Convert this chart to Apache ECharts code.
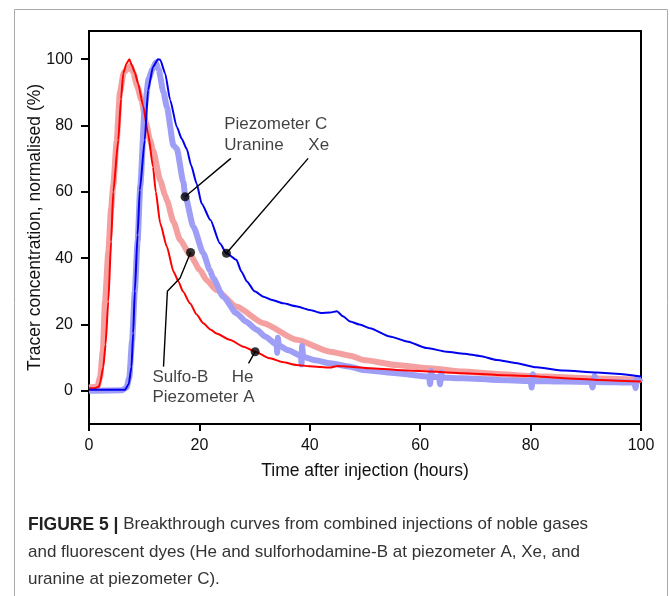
<!DOCTYPE html>
<html><head><meta charset="utf-8">
<script src="https://cdn.jsdelivr.net/npm/echarts@6/dist/echarts.min.js"></script>
<style>html,body{margin:0;padding:0;background:#fff}#c{width:670px;height:596px}</style>
</head><body><div id="c"></div>
<script>
// Data: [time (h), normalised concentration (%)]
const heA = [[0,0.8],[1,0.8],[1.8,1.2],[2,2.4],[2.6,7.3],[3.0,14],[3.5,27],[4.0,45],[4.4,60],[5.3,75.6],[5.8,88],[6.2,95.7],[6.8,98.7],[7.3,100],[7.8,98],[8.3,96],[8.9,92.6],[9.8,86],[10.7,77.6],[11.6,67.5],[12.1,60],[12.9,50.5],[14.1,43.5],[15.3,36],[16.2,33],[17,30],[18.3,26.4],[19.5,23],[20.7,20.4],[22,18.5],[23.1,17.3],[25.5,15.4],[28,13.3],[30.1,11.8],[32.8,9.8],[35,8.7],[37.6,7.8],[40,7.4],[43.7,7],[45,7.5],[47.3,7.3],[50.9,6.8],[55.7,6.3],[61.8,5.8],[67.8,5.3],[73.9,4.8],[79.9,4.5],[86,3.8],[92,3.3],[100,2.8]];
const sulfoB = [[0,1],[1.5,1.2],[2,4],[2.5,12],[2.9,27],[3.5,42],[4.0,55],[4.4,62],[5,75],[5.6,90],[6.3,96],[7.0,97],[7.5,98],[8,96],[8.7,92],[9.5,87.7],[10.3,81],[11.05,75.6],[11.6,72.6],[12.9,63.5],[13.8,59],[14.1,57.5],[15.3,51],[16.5,45.5],[18.3,41],[20.1,36.4],[21.3,33.4],[23.1,30.4],[26.7,25.4],[31.6,20.4],[37.6,15.4],[43.7,11.8],[47.3,10.6],[49.7,9.3],[55.7,7.8],[61.8,6.8],[67.8,5.8],[73.9,5.1],[79.9,4.5],[86,4.1],[92,3.7],[100,3.3]];
const xeC = [[0,0.3],[4,0.3],[6.5,0.3],[7.2,2],[7.7,7.3],[8.0,17.4],[8.3,30],[8.8,47],[9.2,60.5],[10.1,75.6],[10.7,90.7],[11.6,97.7],[12.5,100],[12.9,99.8],[13.8,95.7],[14.7,87.7],[15.9,79.6],[16.8,76],[17.7,73],[18.5,68],[19.5,62.5],[20.4,56.5],[22,51.5],[23.7,44.5],[24.9,41.5],[26.7,39.5],[27.6,36],[28.6,33],[30,30],[31.6,28.4],[33,27.5],[35.2,26.4],[37.5,25.5],[40,24.4],[42,23.5],[43.7,23.6],[44.9,24],[46,22.5],[47.3,20.9],[49,20],[50.9,18.9],[54.5,16.4],[57.6,14.9],[61.2,12.9],[64.8,11.8],[68,11.2],[70.8,10.5],[73.9,9.3],[76.9,8.5],[81.1,7.1],[86,6.1],[92,5.5],[96.2,5.1],[100,4.3]];
const uranineC = [[0,0],[6,0.2],[6.8,1],[7.3,4],[7.8,15],[8.3,30],[8.8,45],[9.3,62],[10.1,85.6],[10.8,94],[11.5,97],[12.1,99],[12.6,97],[13.5,90],[14.1,85.6],[15.3,74],[15.9,73],[17.1,63],[17.4,59],[18.9,49.5],[20.7,41.5],[21.9,36.4],[22.5,34],[24.3,28.4],[26.7,23.4],[28.5,20.8],[30.4,18.4],[32,16.3],[34,13.9],[34.1,11.5],[34.2,16],[34.4,13.7],[36,12.3],[38.4,10.6],[38.5,8],[38.6,13.5],[38.8,10.3],[41,9.2],[43.7,8.3],[47.3,7.3],[49.7,6.3],[55.7,5.3],[61.6,4.3],[61.8,2.0],[62,6],[62.2,4.2],[63.4,4.1],[63.6,2],[63.8,5.5],[64,4.0],[67.8,3.8],[73.9,3.3],[80,3.0],[80.2,1],[80.4,5],[80.6,3],[86,2.8],[91,2.7],[91.2,1],[91.6,4.5],[92,2.7],[98.8,2.5],[99,0.8],[99.3,3.8],[100,2.5]];

// annotation markers and leader lines
const markerPts = [[17.4,58.5],[24.9,41.5],[18.4,41.7],[30.1,11.8]];
const leaderUranine = [[25.7,70.1],[17.4,58.5]];
const leaderXe = [[39.7,70.1],[24.9,41.5]];
const leaderSulfo = [[18.4,41.7],[16.5,34],[14.2,30],[13.5,7.3]];
const leaderHe = [[30.1,11.8],[28.9,8.3]];
// annotation labels: [x, y, text]
const labelsLeft = [[24.5,80.3,'Piezometer C'],[24.5,74.1,'Uranine'],[11.5,4.1,'Sulfo-B'],[11.5,-2.0,'Piezometer A']];
const labelsRight = [[43.5,74.1,'Xe'],[29.8,4.1,'He']];

const xTicks = [0,20,40,60,80,100];
const yTicks = [0,20,40,60,80,100];

const FONT = 'Liberation Sans, Arial, Helvetica, sans-serif';
const chart = echarts.init(document.getElementById('c'), null, {renderer:'canvas'});

function leader(d){ return {type:'line', data:d, symbol:'none', lineStyle:{color:'#000', width:1.4}, z:5, silent:true}; }
function labels(arr, align){
  return {type:'scatter', symbolSize:0, z:6, silent:true,
    data: arr.map(a=>({value:[a[0],a[1]], label:{formatter:a[2]}})),
    label:{show:true, position:'inside', align:align, verticalAlign:'middle', fontFamily:FONT, fontSize:17, color:'#111'}};
}
function curve(name, data, color, width, z){
  return {name:name, type:'line', data:data, symbol:'none', smooth:0.2, smoothMonotone:'x',
    lineStyle:{color:color, width:width}, z:z};
}

chart.setOption({
  animation:false,
  grid:{left:89, right:29, top:31, bottom:172, show:true, borderColor:'#000', borderWidth:2, backgroundColor:'transparent'},
  xAxis:{type:'value', min:0, max:100, interval:20,
    name:'Time after injection (hours)', nameLocation:'middle', nameGap:38, nameMoveOverlap:false,
    nameTextStyle:{fontFamily:FONT, fontSize:17.5, color:'#111'},
    axisLine:{onZero:false, lineStyle:{color:'#000', width:2}},
    axisTick:{show:true, length:7, lineStyle:{color:'#000', width:2}, customValues:xTicks},
    axisLabel:{fontFamily:FONT, fontSize:16, color:'#111', margin:14, customValues:xTicks},
    splitLine:{show:false}},
  yAxis:{type:'value', min:-10, max:108.5,
    name:'Tracer concentration, normalised (%)', nameLocation:'middle', nameGap:45, nameMoveOverlap:false,
    nameTextStyle:{fontFamily:FONT, fontSize:17.5, color:'#111'},
    axisLine:{onZero:false, lineStyle:{color:'#000', width:2}},
    axisTick:{show:true, length:8, lineStyle:{color:'#000', width:2}, customValues:yTicks},
    axisLabel:{fontFamily:FONT, fontSize:16, color:'#111', margin:16, customValues:yTicks},
    splitLine:{show:false}},
  graphic:[
    {type:'rect', shape:{x:14.5, y:9.5, width:653, height:620}, style:{fill:'none', stroke:'#aaa', lineWidth:1}, z:-1},
    {type:'text', left:28, top:511, style:{
      text:'{b|FIGURE 5 |} Breakthrough curves from combined injections of noble gases\nand fluorescent dyes (He and sulforhodamine-B at piezometer A, Xe, and\nuranine at piezometer C).',
      fontFamily:FONT, fontSize:17, lineHeight:27.5, fill:'#333',
      rich:{b:{fontFamily:FONT, fontSize:17.5, fontWeight:'bold', fill:'#222', lineHeight:27.5}}}}
  ],
  series:[
    curve('Sulfo-B', sulfoB, '#f5a0a0', 6, 1),
    curve('Uranine', uranineC, '#9e9ef6', 6, 2),
    curve('He', heA, '#ff0000', 2, 3),
    curve('Xe', xeC, '#0000ee', 2, 4),
    leader(leaderUranine), leader(leaderXe), leader(leaderSulfo), leader(leaderHe),
    {type:'scatter', data:markerPts, symbol:'circle', symbolSize:9, itemStyle:{color:'#000'}, z:7, silent:true},
    labels(labelsLeft,'left'), labels(labelsRight,'right')
  ]
});
</script></body></html>
